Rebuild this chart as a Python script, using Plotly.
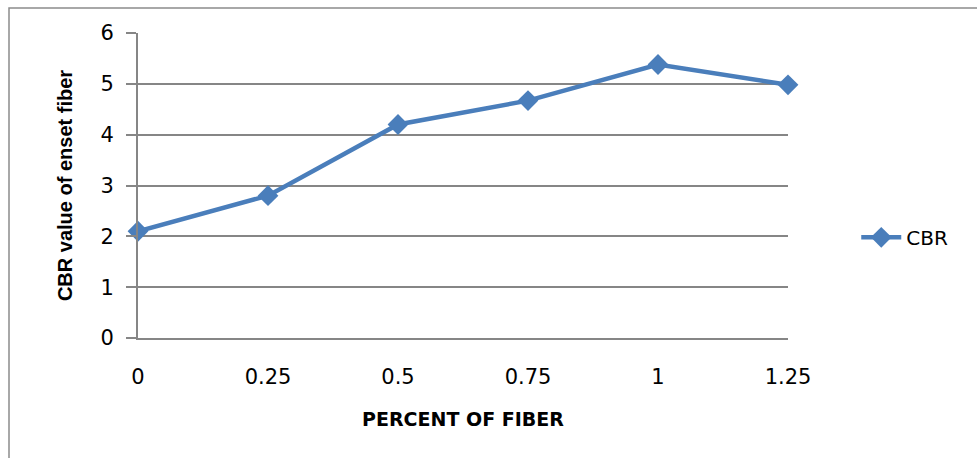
import plotly.graph_objects as go

# Percent of enset fiber added and measured CBR values
fiber_percent = [0, 0.25, 0.5, 0.75, 1, 1.25]
fiber_labels = ["0", "0.25", "0.5", "0.75", "1", "1.25"]
cbr_values = [2.1, 2.8, 4.2, 4.67, 5.38, 4.98]
y_ticks = [0, 1, 2, 3, 4, 5, 6]

blue = "#4A7EBB"
grid = "#868686"
tick_font = dict(family="DejaVu Sans, Verdana, sans-serif", size=21, color="#000000")

fig = go.Figure()
fig.add_trace(go.Scatter(
    x=fiber_percent,
    y=cbr_values,
    mode="lines+markers",
    name="CBR",
    line=dict(color=blue, width=4.5),
    marker=dict(symbol="diamond", size=16, color=blue),
    cliponaxis=False,
))

# outer chart border
fig.add_shape(type="rect", xref="paper", yref="paper",
              x0=(9 - 138) / 650, x1=1.6, y0=-1.0, y1=(338 - 8) / 305,
              line=dict(color="#8C8C8C", width=1.5), layer="below")

fig.update_layout(
    width=977, height=458,
    margin=dict(l=138, r=189, t=33, b=120),
    plot_bgcolor="white", paper_bgcolor="white",
    showlegend=True,
    legend=dict(x=1.105, y=0.33, xanchor="left", yanchor="middle",
                font=dict(family="DejaVu Sans, Verdana, sans-serif", size=20, color="#000000"),
                bgcolor="rgba(0,0,0,0)", itemwidth=40),
    xaxis=dict(
        range=[0, 1.25],
        tickvals=fiber_percent, ticktext=fiber_labels,
        showgrid=False, zeroline=False,
        showline=True, linecolor=grid, linewidth=2,
        ticks="", tickfont=tick_font, ticklabelstandoff=19,
        title=dict(text="<b>PERCENT OF FIBER</b>",
                   font=dict(family="DejaVu Sans, Verdana, sans-serif", size=19, color="#000000"),
                   standoff=24),
    ),
    yaxis=dict(
        range=[0, 6],
        tickvals=y_ticks,
        showgrid=True, gridcolor=grid, gridwidth=1.5,
        zeroline=False,
        showline=True, linecolor=grid, linewidth=2,
        ticks="outside", ticklen=10, tickcolor=grid, tickwidth=1.5,
        tickfont=tick_font, ticklabelstandoff=8,
        title=dict(text="<b>CBR value of enset fiber</b>",
                   font=dict(family="Liberation Sans Narrow, Arial Narrow, sans-serif", size=20, color="#000000"),
                   standoff=22),
    ),
)

fig.write_html("out.html")
